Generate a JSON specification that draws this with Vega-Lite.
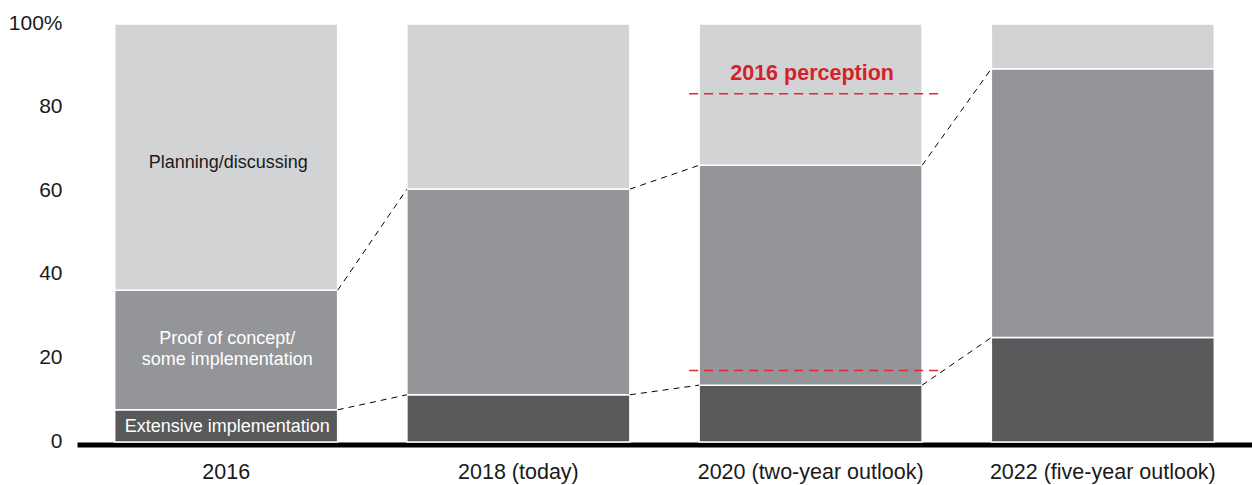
{
  "$schema": "https://vega.github.io/schema/vega-lite/v6.json",
  "width": 1175,
  "height": 418,
  "autosize": {"type": "none"},
  "padding": {"left": 77, "top": 24, "right": 0, "bottom": 43},
  "config": {
    "view": {"stroke": null},
    "font": "Liberation Sans",
    "axisY": {
      "title": null,
      "tickCount": 5,
      "labelExpr": "datum.value == 100 ? '100%' : datum.label",
      "domain": false,
      "ticks": false,
      "grid": false,
      "labelFontSize": 21,
      "labelFont": "Liberation Sans",
      "labelColor": "#1a1a1a",
      "labelPadding": 15,
      "labelOffset": -1
    }
  },
  "datasets": {
    "bars": [
      {"year": "2016", "segment": "Extensive implementation", "rank": 1, "value": 7.7},
      {"year": "2016", "segment": "Proof of concept/\nsome implementation", "rank": 2, "value": 28.6},
      {"year": "2016", "segment": "Planning/discussing", "rank": 3, "value": 63.7},
      {"year": "2018 (today)", "segment": "Extensive implementation", "rank": 1, "value": 11.3},
      {"year": "2018 (today)", "segment": "Proof of concept/\nsome implementation", "rank": 2, "value": 49.2},
      {"year": "2018 (today)", "segment": "Planning/discussing", "rank": 3, "value": 39.5},
      {"year": "2020 (two-year outlook)", "segment": "Extensive implementation", "rank": 1, "value": 13.6},
      {"year": "2020 (two-year outlook)", "segment": "Proof of concept/\nsome implementation", "rank": 2, "value": 52.6},
      {"year": "2020 (two-year outlook)", "segment": "Planning/discussing", "rank": 3, "value": 33.8},
      {"year": "2022 (five-year outlook)", "segment": "Extensive implementation", "rank": 1, "value": 25.0},
      {"year": "2022 (five-year outlook)", "segment": "Proof of concept/\nsome implementation", "rank": 2, "value": 64.3},
      {"year": "2022 (five-year outlook)", "segment": "Planning/discussing", "rank": 3, "value": 10.7}
    ],
    "links": [
      {"link": "ext 2016-2018", "year": "2016", "edge": "right", "level": 7.7},
      {"link": "ext 2016-2018", "year": "2018 (today)", "edge": "left", "level": 11.3},
      {"link": "ext 2018-2020", "year": "2018 (today)", "edge": "right", "level": 11.3},
      {"link": "ext 2018-2020", "year": "2020 (two-year outlook)", "edge": "left", "level": 13.6},
      {"link": "ext 2020-2022", "year": "2020 (two-year outlook)", "edge": "right", "level": 13.6},
      {"link": "ext 2020-2022", "year": "2022 (five-year outlook)", "edge": "left", "level": 25.0},
      {"link": "poc 2016-2018", "year": "2016", "edge": "right", "level": 36.3},
      {"link": "poc 2016-2018", "year": "2018 (today)", "edge": "left", "level": 60.5},
      {"link": "poc 2018-2020", "year": "2018 (today)", "edge": "right", "level": 60.5},
      {"link": "poc 2018-2020", "year": "2020 (two-year outlook)", "edge": "left", "level": 66.2},
      {"link": "poc 2020-2022", "year": "2020 (two-year outlook)", "edge": "right", "level": 66.2},
      {"link": "poc 2020-2022", "year": "2022 (five-year outlook)", "edge": "left", "level": 89.3}
    ],
    "perception": [
      {"bound": "upper", "year": "2020 (two-year outlook)", "edge": "left", "level": 83.3},
      {"bound": "upper", "year": "2020 (two-year outlook)", "edge": "right", "level": 83.3},
      {"bound": "lower", "year": "2020 (two-year outlook)", "edge": "left", "level": 17.1},
      {"bound": "lower", "year": "2020 (two-year outlook)", "edge": "right", "level": 17.1}
    ]
  },
  "encoding": {
    "x": {
      "field": "year",
      "type": "nominal",
      "sort": null,
      "scale": {"paddingInner": 0.237, "paddingOuter": 0.129},
      "axis": {
        "orient": "bottom",
        "title": null,
        "domainColor": "#000000",
        "domainWidth": 5,
        "offset": 2.5,
        "ticks": false,
        "tickSize": 0,
        "labelAngle": 0,
        "labelFontSize": 21.5,
        "labelFont": "Liberation Sans",
        "labelColor": "#1a1a1a",
        "labelPadding": 17,
        "labelLimit": 0
      }
    }
  },
  "layer": [
    {
      "data": {"name": "bars"},
      "mark": {"type": "bar", "stroke": "#ffffff", "strokeWidth": 1.5},
      "encoding": {
        "y": {
          "field": "value",
          "type": "quantitative",
          "stack": "zero",
          "title": null,
          "scale": {"domain": [0, 100], "nice": false}
        },
        "order": {"field": "rank", "type": "quantitative"},
        "color": {
          "field": "segment",
          "type": "nominal",
          "scale": {
            "domain": ["Extensive implementation", "Proof of concept/\nsome implementation", "Planning/discussing"],
            "range": ["#58595b", "#939598", "#d2d3d4"]
          },
          "legend": null
        }
      }
    },
    {
      "data": {"name": "links"},
      "mark": {"type": "line", "stroke": "#000000", "strokeWidth": 1, "strokeDash": [6, 5]},
      "encoding": {
        "xOffset": {
          "field": "edge",
          "type": "nominal",
          "scale": {"type": "point", "domain": ["left", "right"], "range": [0, 223], "padding": 0}
        },
        "y": {"field": "level", "type": "quantitative", "title": null},
        "detail": {"field": "link", "type": "nominal"}
      }
    },
    {
      "data": {"name": "perception"},
      "mark": {"type": "line", "stroke": "#e3262c", "strokeWidth": 1.5, "strokeDash": [9, 6]},
      "encoding": {
        "xOffset": {
          "field": "edge",
          "type": "nominal",
          "scale": {"type": "point", "domain": ["left", "right"], "range": [-10, 239], "padding": 0}
        },
        "y": {"field": "level", "type": "quantitative", "title": null},
        "detail": {"field": "bound", "type": "nominal"}
      }
    },
    {
      "data": {"name": "perception"},
      "transform": [{"filter": "datum.bound == 'upper' && datum.edge == 'left'"}],
      "mark": {"type": "text", "fontSize": 21.5, "fontWeight": "bold", "color": "#d2232a", "baseline": "middle", "align": "center", "dy": -20, "dx": 1.5, "font": "Liberation Sans"},
      "encoding": {
        "y": {"field": "level", "type": "quantitative", "title": null},
        "text": {"value": "2016 perception"}
      }
    },
    {
      "data": {"name": "bars"},
      "transform": [
        {"stack": "value", "groupby": ["year"], "sort": [{"field": "rank", "order": "ascending"}], "as": ["v0", "v1"]},
        {"filter": "datum.year == '2016'"},
        {"fold": ["v0", "v1"], "as": ["bound", "pos"]},
        {"aggregate": [{"op": "mean", "field": "pos", "as": "mid"}], "groupby": ["year", "segment", "rank"]}
      ],
      "layer": [
        {
          "transform": [{"filter": "datum.rank == 3"}],
          "mark": {"type": "text", "fontSize": 18, "color": "#1a1a1a", "baseline": "middle", "align": "center", "dy": 6, "dx": 2, "lineBreak": "\n", "font": "Liberation Sans"},
          "encoding": {
            "y": {"field": "mid", "type": "quantitative", "title": null},
            "text": {"field": "segment", "type": "nominal"}
          }
        },
        {
          "transform": [{"filter": "datum.rank == 2"}],
          "mark": {"type": "text", "fontSize": 18, "color": "#ffffff", "baseline": "middle", "align": "center", "dx": 1, "dy": -11, "lineBreak": "\n", "lineHeight": 21, "font": "Liberation Sans"},
          "encoding": {
            "y": {"field": "mid", "type": "quantitative", "title": null},
            "text": {"field": "segment", "type": "nominal"}
          }
        },
        {
          "transform": [{"filter": "datum.rank == 1"}],
          "mark": {"type": "text", "fontSize": 18, "color": "#ffffff", "baseline": "middle", "align": "center", "dx": 1, "dy": 1, "font": "Liberation Sans"},
          "encoding": {
            "y": {"field": "mid", "type": "quantitative", "title": null},
            "text": {"field": "segment", "type": "nominal"}
          }
        }
      ]
    }
  ],
  "resolve": {"scale": {"xOffset": "independent"}}
}
